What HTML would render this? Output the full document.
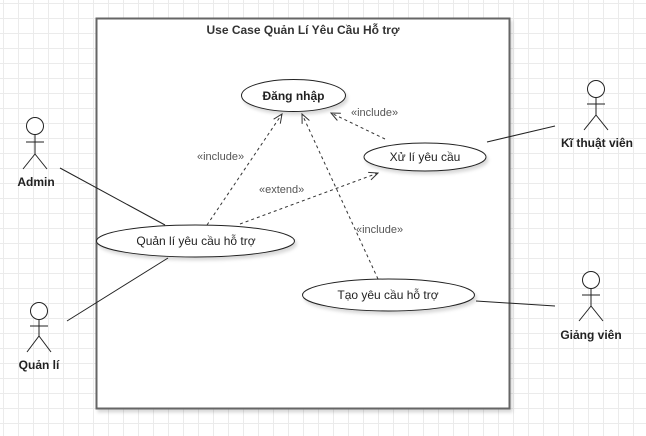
<!DOCTYPE html>
<html><head><meta charset="utf-8"><style>
html,body{margin:0;padding:0;}
body{width:646px;height:436px;overflow:hidden;background:#fff;
background-image:linear-gradient(#ebebeb 1px,transparent 1px),linear-gradient(90deg,#ebebeb 1px,transparent 1px);
background-size:15px 15px;background-position:3px 3px;}
svg{position:absolute;left:0;top:0;font-family:"Liberation Sans","DejaVu Sans",sans-serif;}
</style></head><body>
<svg width="646" height="436" viewBox="0 0 646 436">
<defs>
<marker id="a" markerWidth="12" markerHeight="12" refX="10" refY="5" orient="auto" markerUnits="userSpaceOnUse">
<path d="M1,1 L10,5 L1,9" fill="none" stroke="#333" stroke-width="1"/>
</marker>
<filter id="sh" x="-10%" y="-10%" width="130%" height="150%"><feDropShadow dx="2" dy="3" stdDeviation="1.5" flood-color="#000" flood-opacity="0.15"/></filter>
</defs>
<rect x="96.5" y="18.5" width="413" height="390" fill="#fff" stroke="#666" stroke-width="2" filter="url(#sh)"/>
<text x="303" y="34" text-anchor="middle" font-size="12" font-weight="bold" fill="#333">Use Case Quản Lí Yêu Cầu Hỗ trợ</text>

<g stroke="#222" stroke-width="1" fill="none">
<line x1="60" y1="168" x2="165" y2="225"/>
<line x1="67" y1="321" x2="168" y2="258"/>
<line x1="487" y1="142" x2="555" y2="126"/>
<line x1="476" y1="301" x2="555" y2="306"/>
</g>
<g stroke="#333" stroke-width="1" fill="none" stroke-dasharray="3,3" marker-end="url(#a)">
<line x1="207" y1="225" x2="282" y2="114"/>
<line x1="240" y1="224" x2="378" y2="173"/>
<line x1="385" y1="139" x2="331" y2="113"/>
<line x1="378" y1="279" x2="302" y2="114"/>
</g>
<g font-size="11" fill="#555">
<text x="197" y="160">«include»</text>
<text x="259" y="193">«extend»</text>
<text x="351" y="116">«include»</text>
<text x="356" y="233">«include»</text>
</g>

<g fill="#fff" stroke="#222" stroke-width="1" filter="url(#sh)">
<ellipse cx="293.5" cy="95.5" rx="52" ry="16"/>
<ellipse cx="425" cy="157" rx="61" ry="14"/>
<ellipse cx="195.5" cy="241" rx="99" ry="16"/>
<ellipse cx="388.5" cy="295" rx="86" ry="16"/>
</g>
<g font-size="12" fill="#222" text-anchor="middle">
<text x="293.5" y="100" font-weight="bold">Đăng nhập</text>
<text x="425" y="161">Xử lí yêu cầu</text>
<text x="196" y="245">Quản lí yêu cầu hỗ trợ</text>
<text x="388" y="299">Tạo yêu cầu hỗ trợ</text>
</g>

<g stroke="#222" stroke-width="1" fill="#fff">
<g transform="translate(35,126)"><circle r="8.5" cy="0"/><line x1="0" y1="8.5" x2="0" y2="28"/><line x1="-9" y1="16" x2="9" y2="16"/><line x1="0" y1="28" x2="-12" y2="43"/><line x1="0" y1="28" x2="12" y2="43"/></g>
<g transform="translate(39,311)"><circle r="8.5"/><line x1="0" y1="8.5" x2="0" y2="25"/><line x1="-9" y1="15" x2="9" y2="15"/><line x1="0" y1="25" x2="-12" y2="41"/><line x1="0" y1="25" x2="12" y2="41"/></g>
<g transform="translate(596,89)"><circle r="8.5"/><line x1="0" y1="8.5" x2="0" y2="26"/><line x1="-9" y1="15" x2="9" y2="15"/><line x1="0" y1="26" x2="-12" y2="41"/><line x1="0" y1="26" x2="12" y2="41"/></g>
<g transform="translate(591,280)"><circle r="8.5"/><line x1="0" y1="8.5" x2="0" y2="26"/><line x1="-9" y1="15" x2="9" y2="15"/><line x1="0" y1="26" x2="-12" y2="41"/><line x1="0" y1="26" x2="12" y2="41"/></g>
</g>
<g font-size="12" font-weight="bold" fill="#222" text-anchor="middle">
<text x="36" y="186">Admin</text>
<text x="39" y="369">Quản lí</text>
<text x="597" y="147">Kĩ thuật viên</text>
<text x="591" y="339">Giảng viên</text>
</g>
</svg>
</body></html>
